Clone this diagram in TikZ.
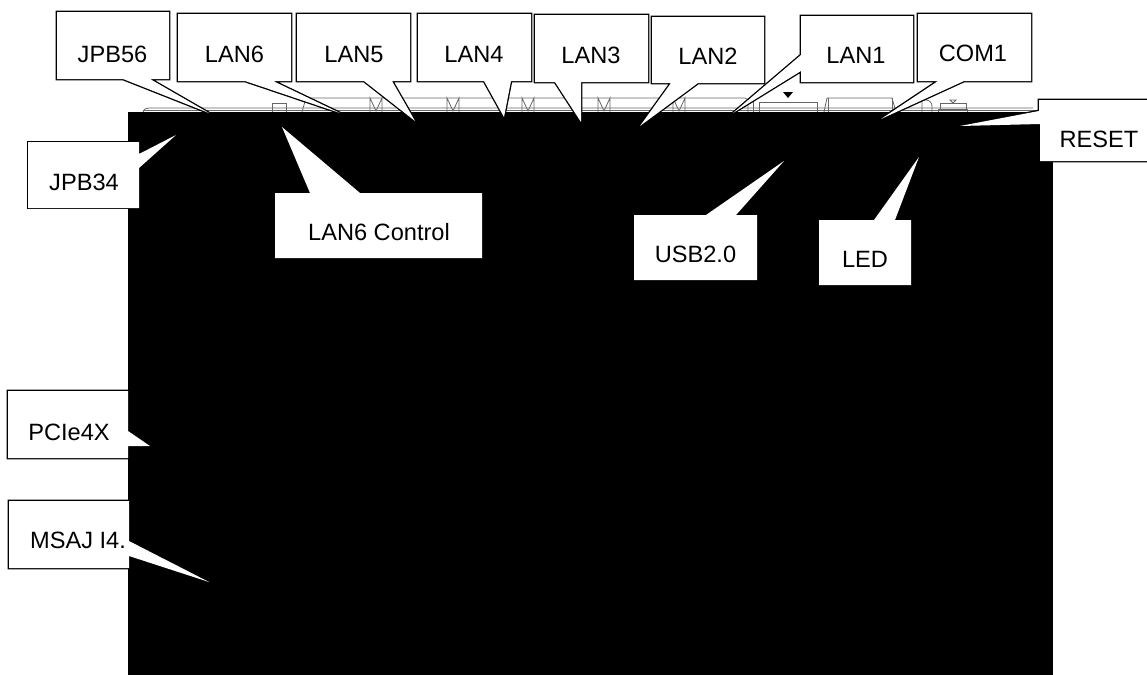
\documentclass[tikz,border=0pt]{standalone}
\usepackage{fontspec}
\setmainfont{Liberation Sans}
\usetikzlibrary{positioning}

\begin{document}
\begin{tikzpicture}[
    x=0.75pt, y=-0.75pt,
    sketch/.style={draw=black!60, line width=0.6pt},
    callout/.style={draw=black, line width=2pt, line join=miter, postaction={draw=none, fill=white}},
    calloutthin/.style={callout, line width=1.2pt},
    tag/.style={anchor=base, inner sep=0pt, font=\fontsize{17.7}{20}\selectfont}
]
\useasboundingbox (0,0) rectangle (1147,675);

% board outline
\draw[sketch] (143,114) -- (143,112) to[out=90,in=180] (149,108) -- (1033,108);
\draw[sketch] (143,110) -- (1036,110);
\draw[sketch] (272,112) -- (272,103) -- (286,103) -- (286,112);
\draw[sketch] (302,112) -- (306,98) -- (745,98) -- (748,100) -- (748,112);
\foreach \px in {370,447,522,598,673} {
    \draw[sketch] (\px,112) -- (\px,98) -- (\px+6,111) -- (\px+12,98) -- (\px+12,112);
}
\draw[sketch] (753,100) -- (753,112);
\draw[sketch] (759,112) -- (759,102) -- (817,102) -- (817,112);
\fill[black] (783,92) -- (793,92) -- (788,98) -- cycle;
\draw[sketch] (824,112) -- (827,98) -- (892,98) -- (896,112);
\draw[sketch] (828,98) -- (828,112);
\draw[sketch] (892,98) -- (892,112);
\draw[sketch] (922,112) -- (922,100) -- (926,100) to[out=0,in=90] (932,106) -- (932,112);
\draw[sketch] (938,112) -- (938,109) -- (967,109) -- (967,112);
\draw[sketch] (940,109) -- (940,103) -- (966,103) -- (966,109);
\draw[sketch] (950,100) -- (956,100) -- (953,103) -- cycle;

% black area
\fill[black] (128,112) rectangle (1053,675);

% top row
\path[callout] (57,12) -- (169,12) -- (169,79) -- (150,79) -- (209,113) -- (123,79) -- (57,79) -- cycle;
\path[callout] (178,14) -- (291,14) -- (291,81) -- (273,81) -- (340,113) -- (245,81) -- (178,81) -- cycle;
\path[callout] (297,14) -- (410,14) -- (410,81) -- (392,81) -- (415,121) -- (364,81) -- (297,81) -- cycle;
\path[callout] (418,14) -- (531,14) -- (531,81) -- (511,81) -- (504,117) -- (484,81) -- (418,81) -- cycle;
\path[callout] (535,15) -- (648,15) -- (648,82) -- (581,82) -- (581,122) -- (555,82) -- (535,82) -- cycle;
\path[callout] (652,17) -- (764,17) -- (764,83) -- (698,83) -- (640,126) -- (671,83) -- (652,83) -- cycle;
\path[callout] (801,16) -- (913,16) -- (913,82) -- (801,82) -- (801,71) -- (733,113) -- (801,55) -- cycle;
\path[callout] (918,14) -- (1031,14) -- (1031,81) -- (964,81) -- (881,119) -- (938,81) -- (918,81) -- cycle;

% reset and lower labels
\path[callout] (1039,100) -- (1147,100) -- (1147,161) -- (1040,161) -- (1040,124) -- (960,126) -- (1039,111) -- cycle;
\path[calloutthin] (634,215) -- (706,215) -- (784,161) -- (736,215) -- (757,215) -- (757,280) -- (634,280) -- cycle;
\path[calloutthin] (819,220) -- (874,220) -- (919,157) -- (895,220) -- (911,220) -- (911,285) -- (819,285) -- cycle;
\path[calloutthin] (275,193) -- (310,193) -- (282,127) -- (360,193) -- (482,193) -- (482,258) -- (275,258) -- cycle;
\path[calloutthin] (28,142) -- (139,142) -- (139,154) -- (176,135) -- (139,168) -- (139,208) -- (28,208) -- cycle;
\path[callout] (8,391) -- (128,391) -- (128,431) -- (150,446) -- (128,446) -- (128,458) -- (8,458) -- cycle;
\path[callout] (9,501) -- (129,501) -- (129,541) -- (209,582) -- (129,556) -- (129,568) -- (9,568) -- cycle;

% labels
\node[tag] (jpbfivesix) at (112.5,62) {JPB56};
\node[tag] (lansix) at (234.5,62) {LAN6};
\node[tag] (lanfive) at (354,62) {LAN5};
\node[tag] (lanfour) at (474,62) {LAN4};
\node[tag] (lanthree) at (591,63.5) {LAN3};
\node[tag] (lantwo) at (708,64) {LAN2};
\node[tag] (lanone) at (856,63) {LAN1};
\node[tag] (comone) at (973,61) {COM1};
\node[tag] (reset) at (1099,147.5) {RESET};
\node[tag] (usb) at (695.5,262.5) {USB2.0};
\node[tag] (led) at (865,267.5) {LED};
\node[tag] (lancontrol) at (379,240.5) {LAN6 Control};
\node[tag] (jpbthreefour) at (84,190) {JPB34};
\node[tag] (pcie) at (69,440) {PCIe4X};
\node[tag] (msaj) at (78,548.5) {MSAJ I4.};

\end{tikzpicture}
\end{document}
